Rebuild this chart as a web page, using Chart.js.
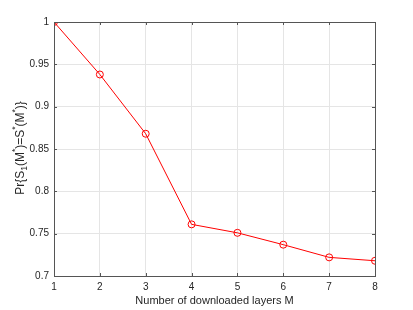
<!DOCTYPE html>
<html>
<head>
<meta charset="utf-8">
<script src="https://cdn.jsdelivr.net/npm/chart.js@4"></script>
<style>
  body { margin: 0; background: #fff; }
  #wrap { width: 413px; height: 310px; }
</style>
</head>
<body>
<div id="wrap"><canvas id="grafico" width="413" height="310"></canvas></div>
<script>
// datos
const capas = [1, 2, 3, 4, 5, 6, 7, 8];
const probabilidad = [1.0, 0.938, 0.868, 0.761, 0.751, 0.737, 0.722, 0.718];
const ticksY = [0.7, 0.75, 0.8, 0.85, 0.9, 0.95, 1];
const tituloX = "Number of downloaded layers M";
// partes del titulo Y: [texto, 0 normal / -1 subindice / 1 superindice]
const tituloY = [["Pr{S", 0], ["1", -1], ["(M", 0], ["*", 1], [")=S", 0], ["*", 1], ["(M", 0], ["*", 1], [")}", 0]];

const fuente = "'Liberation Sans', Arial, sans-serif";
const colorEje = "#555555";

// caja del eje con marcas hacia dentro (estilo MATLAB) y titulo Y con sub/superindices
const cajaMatlab = {
    id: "cajaMatlab",
    afterDraw(chart) {
        const { ctx, chartArea: a, scales } = chart;
        ctx.save();
        ctx.strokeStyle = colorEje;
        ctx.lineWidth = 1;
        ctx.strokeRect(a.left + 0.5, a.top + 0.5, a.right - a.left, a.bottom - a.top);
        ctx.beginPath();
        capas.forEach(v => {
            const x = Math.round(scales.x.getPixelForValue(v)) + 0.5;
            ctx.moveTo(x, a.bottom); ctx.lineTo(x, a.bottom - 3);
            ctx.moveTo(x, a.top); ctx.lineTo(x, a.top + 3);
        });
        ticksY.forEach(v => {
            const y = Math.round(scales.y.getPixelForValue(v)) + 0.5;
            ctx.moveTo(a.left, y); ctx.lineTo(a.left + 3, y);
            ctx.moveTo(a.right, y); ctx.lineTo(a.right - 3, y);
        });
        ctx.stroke();

        // titulo del eje Y
        ctx.fillStyle = "#262626";
        ctx.textBaseline = "alphabetic";
        const grande = "12px " + fuente, chico = "8.5px " + fuente;
        let total = 0;
        tituloY.forEach(([t, tipo]) => {
            ctx.font = tipo === 0 ? grande : chico;
            total += ctx.measureText(t).width;
        });
        ctx.translate(24, 148);
        ctx.rotate(-Math.PI / 2);
        let x = -total / 2;
        tituloY.forEach(([t, tipo]) => {
            ctx.font = tipo === 0 ? grande : chico;
            const dy = tipo === -1 ? 3 : (tipo === 1 ? -6 : 0);
            ctx.fillText(t, x, dy);
            x += ctx.measureText(t).width;
        });
        ctx.restore();
    }
};

const ctx = document.getElementById("grafico").getContext("2d");
new Chart(ctx, {
    type: "line",
    data: {
        datasets: [{
            data: capas.map((c, i) => ({ x: c, y: probabilidad[i] })),
            borderColor: "#ff0000",
            borderWidth: 1,
            pointStyle: "circle",
            pointRadius: 3.5,
            pointBorderWidth: 1,
            pointBorderColor: "#ff0000",
            pointBackgroundColor: "rgba(0,0,0,0)",
            tension: 0
        }]
    },
    options: {
        responsive: false,
        animation: false,
        layout: { padding: { top: 22, right: 38, left: 0, bottom: 0 } },
        plugins: { legend: { display: false }, tooltip: { enabled: false } },
        scales: {
            x: {
                type: "linear",
                min: 1,
                max: 8,
                afterFit: s => { s.height = 34; },
                afterBuildTicks: s => { s.ticks = capas.map(v => ({ value: v })); },
                grid: { color: "#e5e5e5", drawTicks: false },
                border: { display: false },
                ticks: { color: "#262626", padding: 5, font: { family: fuente, size: 10 } },
                title: {
                    display: true,
                    text: tituloX,
                    color: "#262626",
                    padding: { top: 0, bottom: 2 },
                    font: { family: fuente, size: 11 }
                }
            },
            y: {
                min: 0.7,
                max: 1,
                afterFit: s => { s.width = 54; },
                afterBuildTicks: s => { s.ticks = ticksY.map(v => ({ value: v })); },
                grid: { color: "#e5e5e5", drawTicks: false },
                border: { display: false },
                ticks: {
                    color: "#262626",
                    padding: 5,
                    font: { family: fuente, size: 10 },
                    callback: v => String(+v.toFixed(2))
                }
            }
        }
    },
    plugins: [cajaMatlab]
});
</script>
</body>
</html>
